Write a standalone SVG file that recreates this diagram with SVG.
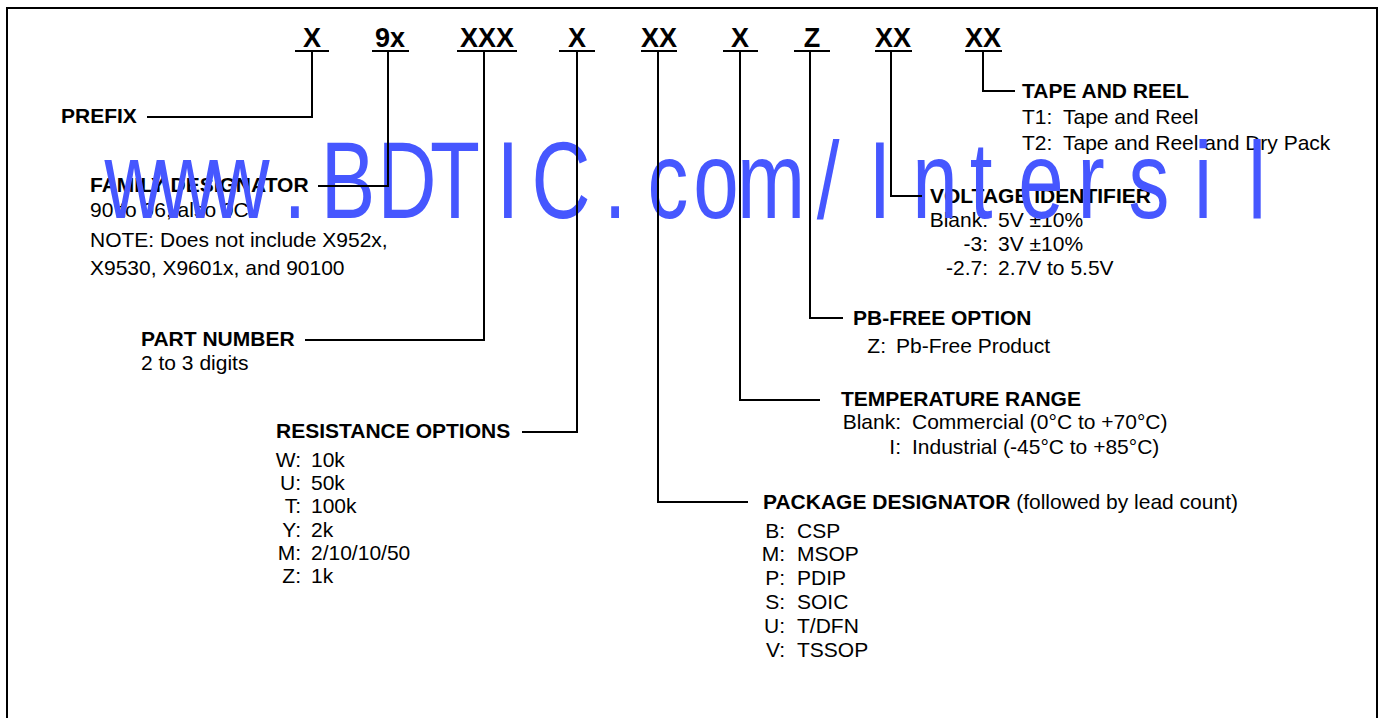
<svg xmlns="http://www.w3.org/2000/svg" width="1384" height="718" viewBox="0 0 1384 718">
<style>
.t{font-family:"Liberation Sans",Arial,sans-serif;font-size:21px;fill:#000}
.b{font-weight:bold}
.code{font-family:"Liberation Sans",Arial,sans-serif;font-size:27px;font-weight:bold;text-anchor:middle;fill:#000}
.e{text-anchor:end}
.ln{fill:none;stroke:#000;stroke-width:2}
.wm{font-family:"Liberation Sans",Arial,sans-serif;font-size:109px;fill:#4657FF;text-anchor:middle}
</style>
<rect width="1384" height="718" fill="#fff"/>
<rect x="7" y="8" width="1370" height="730" class="ln"/>

<g id="codes">
<text class="code" x="312" y="47">X</text>
<text class="code" x="390" y="47">9x</text>
<text class="code" x="487" y="47">XXX</text>
<text class="code" x="577" y="47">X</text>
<text class="code" x="659" y="47">XX</text>
<text class="code" x="740" y="47">X</text>
<text class="code" x="812" y="47">Z</text>
<text class="code" x="893" y="47">XX</text>
<text class="code" x="983" y="47">XX</text>
</g>

<g id="prefix">
<text class="t b" x="61" y="123">PREFIX</text>
</g>
<g id="family">
<text class="t b" x="90" y="192">FAMILY DESIGNATOR</text>
<text class="t" x="90" y="217">90 to 96, also 9C</text>
<text class="t" x="90" y="247">NOTE: Does not include X952x,</text>
<text class="t" x="90" y="275">X9530, X9601x, and 90100</text>
</g>
<g id="partnumber">
<text class="t b" x="141" y="346">PART NUMBER</text>
<text class="t" x="141" y="370">2 to 3 digits</text>
</g>
<g id="resistance">
<text class="t b" x="276" y="438">RESISTANCE OPTIONS</text>
<text class="t e" x="301" y="467">W:</text><text class="t" x="311" y="467">10k</text>
<text class="t e" x="301" y="490">U:</text><text class="t" x="311" y="490">50k</text>
<text class="t e" x="301" y="513">T:</text><text class="t" x="311" y="513">100k</text>
<text class="t e" x="301" y="537">Y:</text><text class="t" x="311" y="537">2k</text>
<text class="t e" x="301" y="560">M:</text><text class="t" x="311" y="560">2/10/10/50</text>
<text class="t e" x="301" y="583">Z:</text><text class="t" x="311" y="583">1k</text>
</g>
<g id="package">
<text class="t" x="763" y="509"><tspan class="b">PACKAGE DESIGNATOR</tspan> (followed by lead count)</text>
<text class="t e" x="785" y="538">B:</text><text class="t" x="797" y="538">CSP</text>
<text class="t e" x="785" y="561">M:</text><text class="t" x="797" y="561">MSOP</text>
<text class="t e" x="785" y="585">P:</text><text class="t" x="797" y="585">PDIP</text>
<text class="t e" x="785" y="609">S:</text><text class="t" x="797" y="609">SOIC</text>
<text class="t e" x="785" y="633">U:</text><text class="t" x="797" y="633">T/DFN</text>
<text class="t e" x="785" y="657">V:</text><text class="t" x="797" y="657">TSSOP</text>
</g>
<g id="temperature">
<text class="t b" x="841" y="406">TEMPERATURE RANGE</text>
<text class="t e" x="901" y="429">Blank:</text><text class="t" x="912" y="429">Commercial (0°C to +70°C)</text>
<text class="t e" x="901" y="454">I:</text><text class="t" x="912" y="454">Industrial (-45°C to +85°C)</text>
</g>
<g id="pbfree">
<text class="t b" x="853" y="325">PB-FREE OPTION</text>
<text class="t e" x="886" y="353">Z:</text><text class="t" x="896" y="353">Pb-Free Product</text>
</g>
<g id="voltage">
<text class="t b" x="930" y="203">VOLTAGE IDENTIFIER</text>
<text class="t e" x="988" y="227">Blank:</text><text class="t" x="998" y="227">5V ±10%</text>
<text class="t e" x="988" y="251">-3:</text><text class="t" x="998" y="251">3V ±10%</text>
<text class="t e" x="988" y="275">-2.7:</text><text class="t" x="998" y="275">2.7V to 5.5V</text>
</g>
<g id="tapereel">
<text class="t b" x="1022" y="98">TAPE AND REEL</text>
<text class="t" x="1022" y="124">T1:</text><text class="t" x="1063" y="124">Tape and Reel</text>
<text class="t" x="1022" y="150">T2:</text><text class="t" x="1063" y="150">Tape and Reel and Dry Pack</text>
</g>

<g id="watermark" transform="translate(0,218) scale(0.75,1)">
<text class="wm" x="178.7 249.3 320 393.3 464 542.7 606.7 677.3 748 820 890.7 954.7 1028 1104 1173.3 1246.7 1308 1388 1454.7 1532 1604 1676" y="0">www.BDTIC.com/Intersil</text>
</g>

<g id="connectors" class="ln">
<path d="M295 51H329M372 51H409M457 51H517M559 51H595M641 51H677M723 51H758M794 51H830M875 51H912M965 51H1002"/>
<path d="M312 51V117H147"/>
<path d="M388 51V186H318"/>
<path d="M484 51V340H305"/>
<path d="M577 51V432H522"/>
<path d="M658 51V502H748"/>
<path d="M740 51V400H820"/>
<path d="M810 51V318H843"/>
<path d="M891 51V196H922"/>
<path d="M983 51V91H1015"/>
</g>
</svg>
